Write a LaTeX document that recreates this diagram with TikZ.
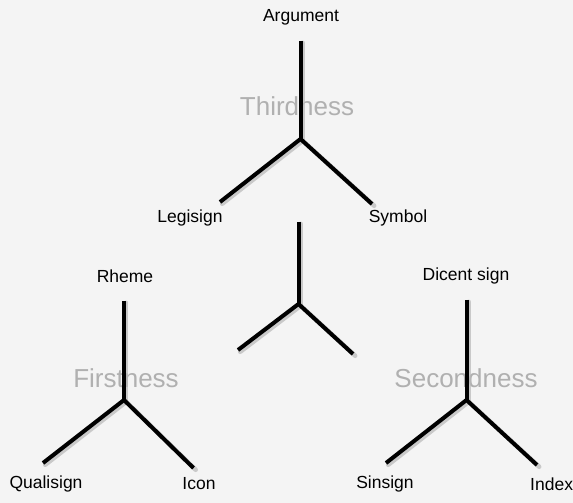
\documentclass[tikz,border=0pt]{standalone}
\usepackage{fontspec}
\setmainfont{Liberation Sans}
\definecolor{bgcol}{RGB}{244,244,244}
\definecolor{ghost}{RGB}{176,176,176}
\begin{document}
\begin{tikzpicture}[x=1pt,y=-1pt,
  lbl/.style={inner sep=0pt,font=\fontsize{17.5}{20}\selectfont,text=black},
  big/.style={inner sep=0pt,font=\fontsize{26}{30}\selectfont,text=ghost},
  branch/.style={line width=4pt,black,line cap=butt},
  shade/.style={line width=4.5pt,black!28,line cap=round,opacity=0.7}]
\fill[bgcol] (0,0) rectangle (573,503);
\useasboundingbox (0,0) rectangle (573,503);
% background words
\node[big] (third) at (297,106) {Thirdness};
\node[big] (first) at (126,378) {Firstness};
\node[big] (second) at (466,378) {Secondness};
% tree geometry
\coordinate (tc) at (300.5,139);
\coordinate (tt) at (300.5,41);
\coordinate (tl) at (220,202);
\coordinate (tr) at (372,204);
\coordinate (mc) at (298.5,304);
\coordinate (mt) at (298.5,222);
\coordinate (ml) at (238,350);
\coordinate (mr) at (353,354);
\coordinate (fc) at (124,400);
\coordinate (ft) at (124,301);
\coordinate (fl) at (43,463);
\coordinate (fr) at (193.5,468);
\coordinate (sc) at (466.5,400);
\coordinate (st) at (466.5,300);
\coordinate (sl) at (386,463);
\coordinate (sr) at (537,465);
% shadows
\foreach \c/\e in {tc/tt,tc/tl,tc/tr,mc/mt,mc/ml,mc/mr,fc/ft,fc/fl,fc/fr,sc/st,sc/sl,sc/sr}
  \draw[shade] ([shift={(2.2,1.8)}]\c) -- ([shift={(2.2,1.8)}]\e);
% branches
\foreach \c/\e in {tc/tt,tc/tl,tc/tr,mc/mt,mc/ml,mc/mr,fc/ft,fc/fl,fc/fr,sc/st,sc/sl,sc/sr}
  \draw[branch] (\c) -- (\e);
% labels
\node[lbl] (argument) at (301,17) {Argument};
\node[lbl] (legisign) at (190,218) {Legisign};
\node[lbl] (symbol) at (398,218) {Symbol};
\node[lbl] (rheme) at (125,276) {Rheme};
\node[lbl] (dicent) at (466,276) {Dicent sign};
\node[lbl] (qualisign) at (46,484) {Qualisign};
\node[lbl] (icon) at (199,484) {Icon};
\node[lbl] (sinsign) at (385,484) {Sinsign};
\node[lbl,anchor=west] (index) at (530,484) {Index};
\end{tikzpicture}
\end{document}
